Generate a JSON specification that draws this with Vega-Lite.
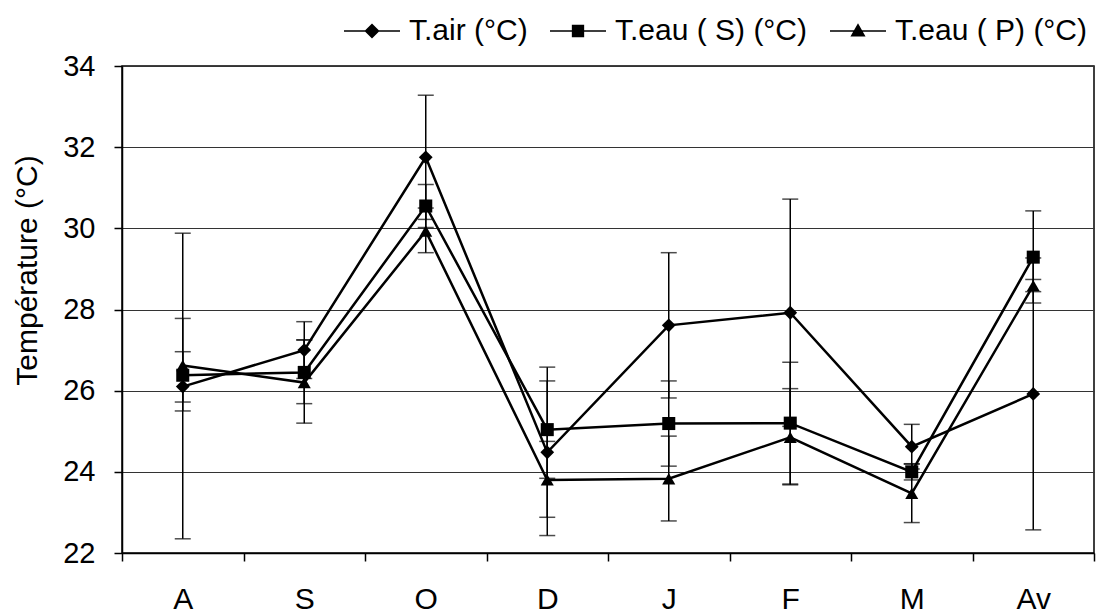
{
  "$schema": "https://vega.github.io/schema/vega-lite/v6.json",
  "width": 972,
  "height": 487,
  "autosize": "none",
  "padding": {"left": 122, "top": 66, "right": 11, "bottom": 62},
  "background": "white",
  "config": {
    "font": "Liberation Sans",
    "view": {"stroke": "black", "strokeWidth": 1.5}
  },
  "data": {
    "values": [
      {"mois": "A", "serie": "T.air (°C)", "val": 26.1, "lo": 22.35, "hi": 29.88},
      {"mois": "S", "serie": "T.air (°C)", "val": 27.0, "lo": 26.3, "hi": 27.7},
      {"mois": "O", "serie": "T.air (°C)", "val": 31.75, "lo": 30.22, "hi": 33.28},
      {"mois": "D", "serie": "T.air (°C)", "val": 24.48, "lo": 22.43, "hi": 26.58},
      {"mois": "J", "serie": "T.air (°C)", "val": 27.61, "lo": 25.82, "hi": 29.4},
      {"mois": "F", "serie": "T.air (°C)", "val": 27.92, "lo": 25.12, "hi": 30.72},
      {"mois": "M", "serie": "T.air (°C)", "val": 24.62, "lo": 24.07, "hi": 25.17},
      {"mois": "Av", "serie": "T.air (°C)", "val": 25.92, "lo": 22.57, "hi": 29.27},
      {"mois": "A", "serie": "T.eau ( S) (°C)", "val": 26.38, "lo": 25.72, "hi": 26.96},
      {"mois": "S", "serie": "T.eau ( S) (°C)", "val": 26.45, "lo": 25.68, "hi": 27.25},
      {"mois": "O", "serie": "T.eau ( S) (°C)", "val": 30.55, "lo": 30.02, "hi": 31.08},
      {"mois": "D", "serie": "T.eau ( S) (°C)", "val": 25.04, "lo": 23.84, "hi": 26.24},
      {"mois": "J", "serie": "T.eau ( S) (°C)", "val": 25.19, "lo": 24.14, "hi": 26.24},
      {"mois": "F", "serie": "T.eau ( S) (°C)", "val": 25.2, "lo": 23.7, "hi": 26.7},
      {"mois": "M", "serie": "T.eau ( S) (°C)", "val": 24.0, "lo": 23.8, "hi": 24.2},
      {"mois": "Av", "serie": "T.eau ( S) (°C)", "val": 29.29, "lo": 28.16, "hi": 30.43},
      {"mois": "A", "serie": "T.eau ( P) (°C)", "val": 26.62, "lo": 25.5, "hi": 27.78},
      {"mois": "S", "serie": "T.eau ( P) (°C)", "val": 26.2, "lo": 25.2, "hi": 27.25},
      {"mois": "O", "serie": "T.eau ( P) (°C)", "val": 29.93, "lo": 29.4, "hi": 30.5},
      {"mois": "D", "serie": "T.eau ( P) (°C)", "val": 23.8, "lo": 22.88, "hi": 24.75},
      {"mois": "J", "serie": "T.eau ( P) (°C)", "val": 23.83, "lo": 22.79, "hi": 24.88},
      {"mois": "F", "serie": "T.eau ( P) (°C)", "val": 24.85, "lo": 23.68, "hi": 26.05},
      {"mois": "M", "serie": "T.eau ( P) (°C)", "val": 23.47, "lo": 22.75, "hi": 24.19},
      {"mois": "Av", "serie": "T.eau ( P) (°C)", "val": 28.59, "lo": 28.44, "hi": 28.74}
    ]
  },
  "encoding": {
    "x": {
      "field": "mois",
      "type": "nominal",
      "sort": ["A", "S", "O", "D", "J", "F", "M", "Av"],
      "scale": {"paddingInner": 0, "paddingOuter": 0},
      "axis": {
        "title": null,
        "labelAngle": 0,
        "labelFontSize": 30,
        "labelColor": "black",
        "labelBaseline": "top",
        "labelPadding": 23,
        "tickBand": "extent",
        "tickSize": 8,
        "tickColor": "black",
        "tickWidth": 1.5,
        "domainColor": "black",
        "domainWidth": 1.5,
        "grid": false
      }
    }
  },
  "layer": [
    {
      "mark": {"type": "rule", "color": "black", "strokeWidth": 1.5},
      "encoding": {
        "y": {
          "field": "lo",
          "type": "quantitative",
          "scale": {"domain": [22, 34], "nice": false, "zero": false},
          "axis": {
            "title": "Température (°C)",
            "titleFontSize": 30,
            "titleFontWeight": "normal",
            "titleColor": "black",
            "titleX": -95,
            "titleY": 204,
            "titleAngle": -90,
            "titleAlign": "center",
            "titleBaseline": "middle",
            "values": [22, 24, 26, 28, 30, 32, 34],
            "labelFontSize": 29,
            "labelColor": "black",
            "labelPadding": 19,
            "tickSize": 8,
            "tickColor": "black",
            "tickWidth": 1.5,
            "domainColor": "black",
            "domainWidth": 1.5,
            "grid": true,
            "gridColor": "#333333",
            "gridWidth": 1
          }
        },
        "y2": {"field": "hi"},
        "detail": {"field": "serie"}
      }
    },
    {
      "mark": {"type": "tick", "color": "black", "thickness": 1.5, "size": 16},
      "encoding": {"y": {"field": "lo", "type": "quantitative"}, "detail": {"field": "serie"}}
    },
    {
      "mark": {"type": "tick", "color": "black", "thickness": 1.5, "size": 16},
      "encoding": {"y": {"field": "hi", "type": "quantitative"}, "detail": {"field": "serie"}}
    },
    {
      "mark": {"type": "line", "color": "black", "strokeWidth": 2.5},
      "encoding": {"y": {"field": "val", "type": "quantitative"}, "detail": {"field": "serie"}}
    },
    {
      "transform": [{"filter": "datum.serie === 'T.air (°C)'"}],
      "mark": {"type": "point", "filled": true, "color": "black", "size": 190, "opacity": 1, "shape": "diamond"},
      "encoding": {"y": {"field": "val", "type": "quantitative"}}
    },
    {
      "transform": [{"filter": "datum.serie === 'T.eau ( S) (°C)'"}],
      "mark": {"type": "point", "filled": true, "color": "black", "size": 170, "opacity": 1, "shape": "square"},
      "encoding": {"y": {"field": "val", "type": "quantitative"}}
    },
    {
      "transform": [{"filter": "datum.serie === 'T.eau ( P) (°C)'"}],
      "mark": {"type": "point", "filled": true, "color": "black", "size": 170, "opacity": 1, "shape": "triangle-up"},
      "encoding": {"y": {"field": "val", "type": "quantitative"}}
    },
    {
      "mark": {"type": "point", "filled": true, "color": "black", "opacity": 0},
      "encoding": {
        "y": {"field": "val", "type": "quantitative"},
        "shape": {
          "field": "serie",
          "type": "nominal",
          "scale": {
            "domain": ["T.air (°C)", "T.eau ( S) (°C)", "T.eau ( P) (°C)"],
            "range": [
              "M-1,-0.028H1V0.028H-1ZM0,-0.27L0.27,0L0,0.27L-0.27,0Z",
              "M-1,-0.028H1V0.028H-1ZM-0.22,-0.22H0.22V0.22H-0.22Z",
              "M-1,-0.028H1V0.028H-1ZM0,-0.28L0.27,0.2L-0.27,0.2Z"
            ]
          },
          "legend": {
            "orient": "none",
            "legendX": 221,
            "legendY": -64,
            "direction": "horizontal",
            "title": null,
            "labelFontSize": 30,
            "labelColor": "black",
            "labelLimit": 0,
            "labelOffset": 8,
            "columnPadding": 19,
            "symbolSize": 3136,
            "symbolFillColor": "black",
            "symbolOpacity": 1,
            "encode": {
              "symbols": {
                "update": {
                  "fill": {"value": "black"},
                  "opacity": {"value": 1}
                }
              }
            }
          }
        }
      }
    }
  ]
}
